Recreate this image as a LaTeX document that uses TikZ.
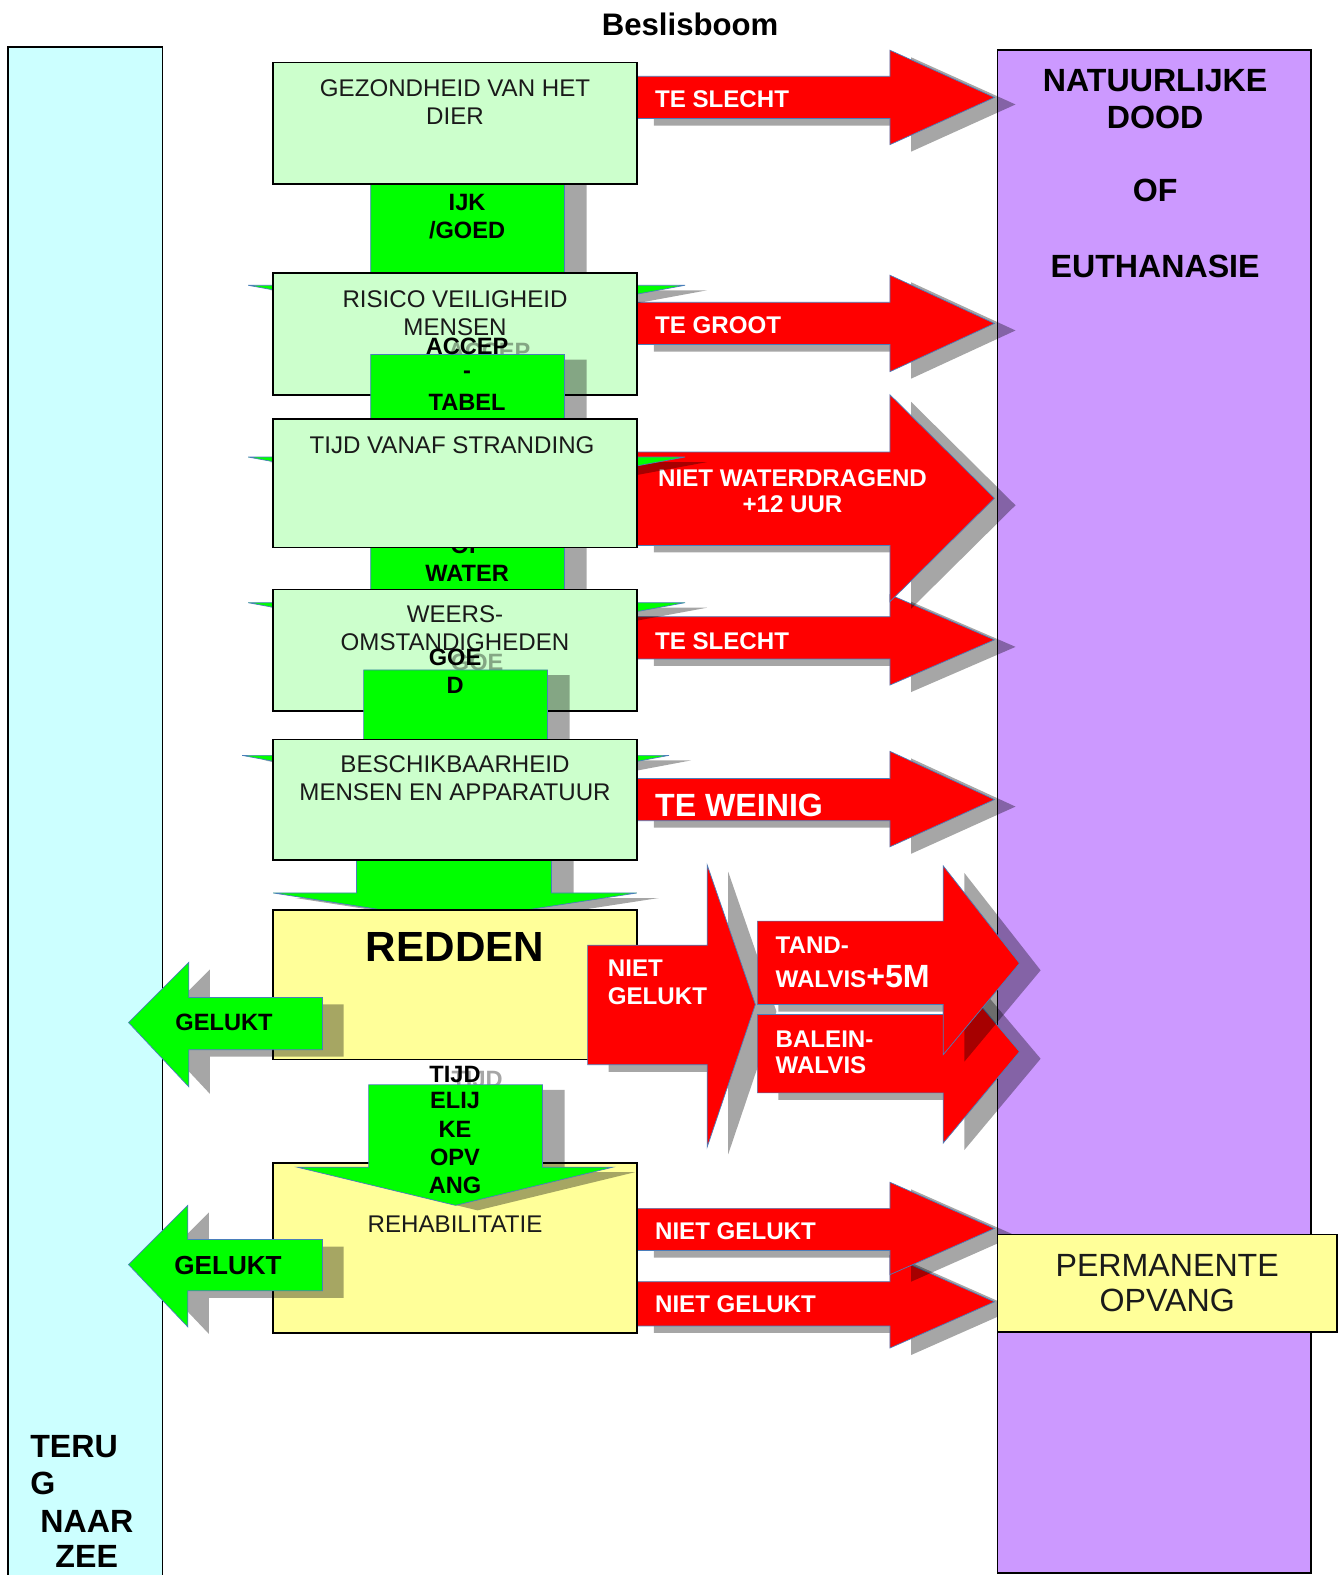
\documentclass[tikz,border=0pt]{standalone}
\usepackage{fontspec}
\setmainfont{Liberation Sans}
\definecolor{cyanc}{HTML}{CCFFFF}
\definecolor{purpc}{HTML}{CC99FF}
\definecolor{lgreen}{HTML}{CCFFCC}
\definecolor{lyellow}{HTML}{FFFF99}
\definecolor{arrgreen}{HTML}{00FF00}
\definecolor{arrred}{HTML}{FF0000}
\definecolor{edgeblue}{HTML}{4A7EBB}
\definecolor{txtc}{HTML}{1A1A1A}
% block arrow: #1 style, #2 base x, #3 body top, #4 body bottom, #5 head x, #6 head top, #7 head bottom, #8 tip x, #9 tip y
\newcommand\BArr[9]{%
  \begin{scope}[shift={(21,7)}]
    \fill[shc] (#2,#3) -- (#5,#3) -- (#5,#6) -- (#8,#9) -- (#5,#7) -- (#5,#4) -- (#2,#4) -- cycle;
  \end{scope}
  \filldraw[#1] (#2,#3) -- (#5,#3) -- (#5,#6) -- (#8,#9) -- (#5,#7) -- (#5,#4) -- (#2,#4) -- cycle;}
% down arrow: #1 body left, #2 body right, #3 body top, #4 head y, #5 wing left, #6 wing right, #7 tip x, #8 tip y
\newcommand\DArrS[8]{%
  \begin{scope}[shift={(22,5)}]
    \fill[shc] (#1,#3) -- (#2,#3) -- (#2,#4) -- (#6,#4) -- (#7,#8) -- (#5,#4) -- (#1,#4) -- cycle;
  \end{scope}}
\newcommand\DArrF[8]{%
  \filldraw[garr] (#1,#3) -- (#2,#3) -- (#2,#4) -- (#6,#4) -- (#7,#8) -- (#5,#4) -- (#1,#4) -- cycle;}
\begin{document}
\begin{tikzpicture}[x=1pt,y=-1pt,
  shc/.style={fill=black,fill opacity=0.35},
  rarr/.style={fill=arrred,draw=edgeblue,line width=0.7pt},
  garr/.style={fill=arrgreen,draw=edgeblue,line width=0.7pt},
  lbox/.style={draw=black,line width=1.5pt,fill=lgreen},
  ybox/.style={draw=black,line width=1.5pt,fill=lyellow},
  btxt/.style={font=\fontsize{24}{28}\selectfont,align=center,inner sep=0pt,text=txtc},
  gtxt/.style={font=\bfseries\fontsize{23.5}{28}\selectfont,align=center,inner sep=0pt,text=black},
  shtxt/.style={text=black,text opacity=0.35},
  wtxt/.style={font=\bfseries\fontsize{24}{26}\selectfont,align=center,inner sep=0pt,text=white},
  wbig/.style={font=\bfseries\fontsize{32}{34}\selectfont,inner sep=0pt,text=white},
  ptxt/.style={font=\bfseries\fontsize{32}{36}\selectfont,inner sep=0pt,text=black},
  permtxt/.style={font=\fontsize{32}{35}\selectfont,align=center,inner sep=0pt,text=txtc},
  ttl/.style={font=\bfseries\fontsize{31}{34}\selectfont,inner sep=0pt},
  redtitle/.style={font=\bfseries\fontsize{42}{46}\selectfont,inner sep=0pt}]
\useasboundingbox (0,0) rectangle (1335,1568);
\fill[white] (0,0) rectangle (1335,1568);
\node[ttl] (title) at (687,24) {Beslisboom};
% columns
\draw[line width=1.5pt,fill=cyanc] (8,47) rectangle (162,1590);
\draw[line width=1.5pt,fill=purpc] (993,50) rectangle (1305,1566);
\node[ptxt] (p1) at (1150,80) {NATUURLIJKE};
\node[ptxt] (p2) at (1150,117) {DOOD};
\node[ptxt] (p3) at (1150,190) {OF};
\node[ptxt] (p4) at (1150,265) {EUTHANASIE};
\node[ptxt,anchor=west] (z1) at (30,1440) {TERU};
\node[ptxt,anchor=west] (z2) at (30,1477) {G};
\node[ptxt,anchor=west] (z3) at (40,1515) {NAAR};
\node[ptxt,anchor=west] (z4) at (55,1550) {ZEE};
% red arrows (top part)
\BArr{rarr}{630}{76}{118}{886}{50}{144}{990}{97}
\node[wtxt,anchor=west] (r1) at (652,99) {TE SLECHT};
\BArr{rarr}{630}{301}{343}{886}{274}{370}{990}{322}
\node[wtxt,anchor=west] (r2) at (652,324) {TE GROOT};
\BArr{rarr}{630}{614}{656}{886}{592}{682}{990}{637}
\node[wtxt,anchor=west] (r4) at (652,638) {TE SLECHT};
\BArr{rarr}{630}{450}{543}{886}{393}{599}{990}{496}
\node[wtxt] (r3) at (789,489) {NIET WATERDRAGEND\\+12 UUR};
\BArr{rarr}{630}{775}{817}{886}{748}{843}{990}{796}
\node[wbig,anchor=west] (r5) at (652,802) {TE WEINIG};
% green arrow 1
\DArrS{369}{562}{150}{284}{247}{682}{465}{324}
\DArrF{369}{562}{150}{284}{247}{682}{465}{324}
\node[gtxt] (g1) at (465,216) {IJK\\/GOED};
\draw[lbox] (272,62) rectangle (634,183);
\node[btxt] (b1) at (453,102) {GEZONDHEID VAN HET\\DIER};
\draw[lbox] (272,272) rectangle (634,393);
\node[btxt] (b2) at (453,312) {RISICO VEILIGHEID\\MENSEN};
% green arrow 2
\DArrS{369}{562}{353}{455}{247}{682}{465}{495}
\node[gtxt,shtxt] at (487,350) {ACCEP};
\DArrF{369}{562}{353}{455}{247}{682}{465}{495}
\node[gtxt] (g2a) at (465,345) {ACCEP};
\node[gtxt] (g2b) at (465,373) {-};
\node[gtxt] (g2c) at (465,401) {TABEL};
% green arrow 3
\DArrS{369}{562}{480}{600}{247}{682}{465}{640}
\DArrF{369}{562}{480}{600}{247}{682}{465}{640}
\node[gtxt] (g3a) at (465,543) {OF};
\node[gtxt] (g3b) at (465,571) {WATER};
\draw[lbox] (272,417) rectangle (634,545);
\node[btxt] (b3) at (450,443) {TIJD VANAF STRANDING};
\draw[lbox] (272,587) rectangle (634,708);
\node[btxt] (b4) at (453,625) {WEERS-\\OMSTANDIGHEDEN};
% green arrow 4
\DArrS{362}{545}{667}{752}{241}{666}{453.5}{792}
\node[gtxt,shtxt] at (475,659) {GOE};
\DArrF{362}{545}{667}{752}{241}{666}{453.5}{792}
\node[gtxt] (g4a) at (453,654) {GOE};
\node[gtxt] (g4b) at (453,682) {D};
% green arrow 5
\DArrS{355}{549}{830}{889}{272}{634}{452}{917}
\DArrF{355}{549}{830}{889}{272}{634}{452}{917}
\draw[lbox] (272,736) rectangle (634,856);
\node[btxt] (b5) at (453,775) {BESCHIKBAARHEID\\MENSEN EN APPARATUUR};
% redden
\draw[ybox] (272,906) rectangle (634,1055);
\node[redtitle] (red) at (453,943) {REDDEN};
\BArr{garr}{321}{993}{1045}{188}{958}{1082}{128}{1018}
\node[gtxt] (gl1) at (223,1018) {GELUKT};
\BArr{rarr}{585}{941}{1060}{704}{861}{1142}{752}{1000}
\node[wtxt,anchor=west] (ng1) at (605,964) {NIET};
\node[wtxt,anchor=west] (ng2) at (605,992) {GELUKT};
\BArr{rarr}{754}{1010}{1088}{939}{957}{1138}{1015}{1047}
\node[wtxt,anchor=west] (bw1) at (772,1035) {BALEIN-};
\node[wtxt,anchor=west] (bw2) at (772,1060) {WALVIS};
\BArr{rarr}{754}{917}{1000}{939}{862}{1050}{1015}{959}
\node[wtxt,anchor=west] (tw1) at (772,941) {TAND-};
\node[wtxt,anchor=base west] (tw2) at (772,983) {WALVIS{\fontsize{32}{34}\selectfont+5M}};
% rehabilitation
\BArr{rarr}{630}{1276}{1320}{886}{1250}{1342}{990}{1296}
\node[wtxt,anchor=west] (rg2) at (652,1298) {NIET GELUKT};
\BArr{rarr}{630}{1203}{1245}{886}{1177}{1269}{990}{1223}
\node[wtxt,anchor=west] (rg1) at (652,1226) {NIET GELUKT};
\draw[ybox] (272,1158) rectangle (634,1327);
\node[btxt] (b7) at (453,1219) {REHABILITATIE};
\DArrS{367}{540}{1080}{1162}{296}{610}{453.5}{1200}
\node[gtxt,shtxt] at (475,1075) {TIJD};
\DArrF{367}{540}{1080}{1162}{296}{610}{453.5}{1200}
\node[gtxt] (t1) at (453,1070) {TIJD};
\node[gtxt] (t2) at (453,1096) {ELIJ};
\node[gtxt] (t3) at (453,1124) {KE};
\node[gtxt] (t4) at (453,1152) {OPV};
\node[gtxt] (t5) at (453,1180) {ANG};
\BArr{garr}{321}{1234}{1285}{187}{1200}{1321}{128}{1259}
\node[gtxt,font=\bfseries\fontsize{26}{28}\selectfont] (gl2) at (227,1260) {GELUKT};
\draw[ybox] (993,1229) rectangle (1331,1326);
\node[permtxt] (perm) at (1162,1277) {PERMANENTE\\OPVANG};
\end{tikzpicture}
\end{document}
